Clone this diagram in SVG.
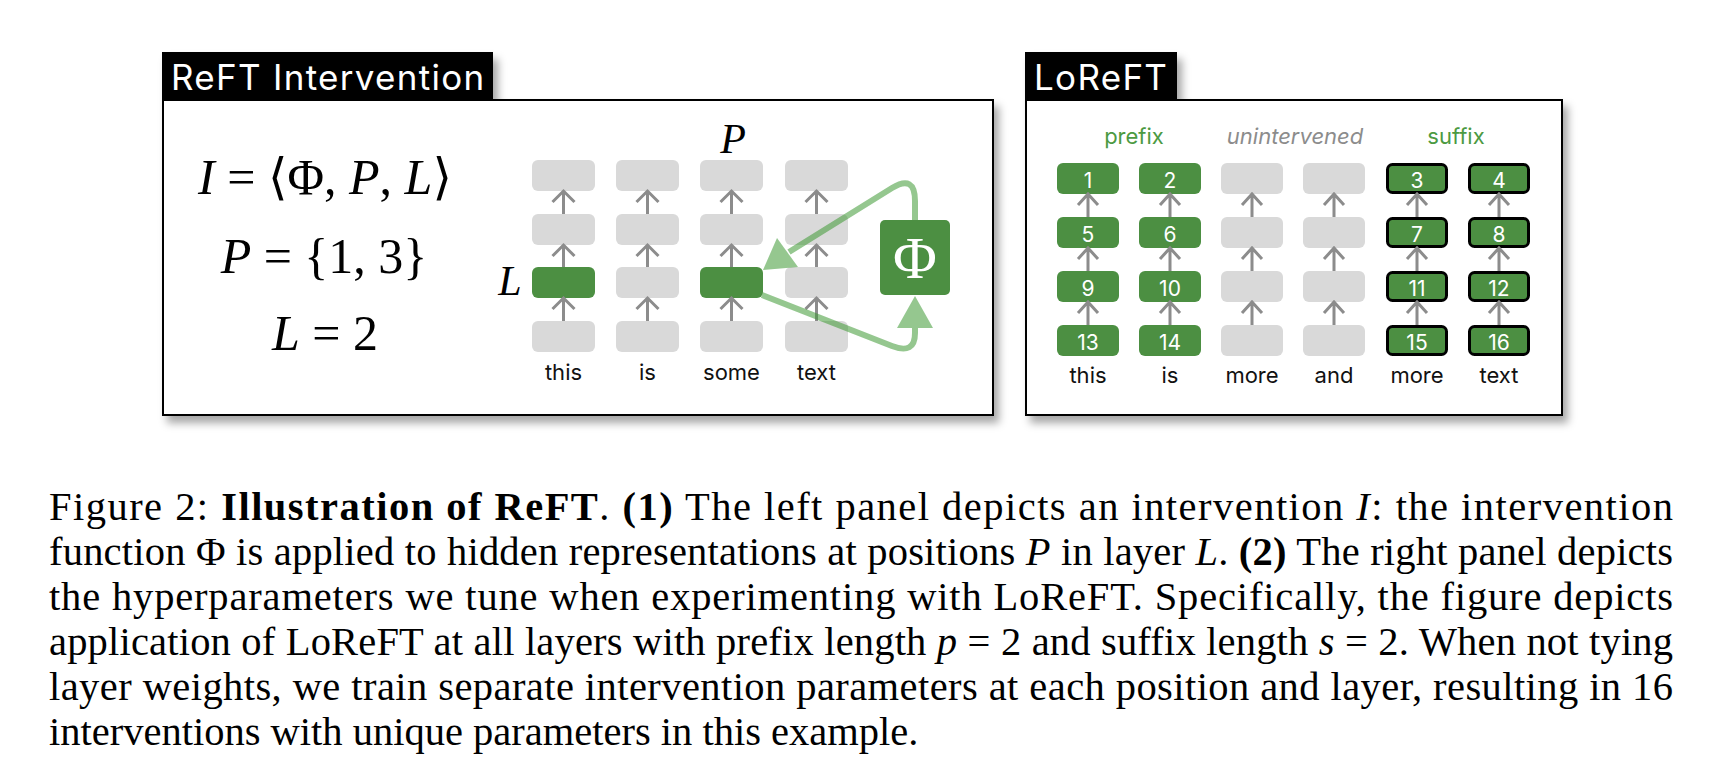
<svg xmlns="http://www.w3.org/2000/svg" width="1710" height="782" viewBox="0 0 1710 782">
<defs>
<filter id="sh" x="-10%" y="-10%" width="125%" height="130%">
<feDropShadow dx="5" dy="7" stdDeviation="4" flood-color="#000" flood-opacity="0.35"/>
</filter>
<style>
.panel{fill:#fff;stroke:#000;stroke-width:2}
.title{fill:#000}
.ttext{font-family:Inter,"Liberation Sans",sans-serif;font-size:35px;fill:#fff;letter-spacing:1.3px}
.g{fill:#d9d9d9}
.gr{fill:#4c8f42}
.sx{fill:#4c8f42;stroke:#000;stroke-width:3}
.num{font-family:Inter,"Liberation Sans",sans-serif;font-size:21px;fill:#fff;text-anchor:middle}
.word{font-family:Inter,"Liberation Sans",sans-serif;font-size:22px;fill:#111;text-anchor:middle}
.lab{font-family:Inter,"Liberation Sans",sans-serif;font-size:22px;text-anchor:middle}
.math{font-family:"Liberation Serif","DejaVu Serif",serif;font-size:50px;fill:#000;text-anchor:middle}
.it{font-style:italic}
.arr{fill:none;stroke:#8c8c8c;stroke-width:3}
.gl{fill:none;stroke:#3f9a35;stroke-width:6;stroke-linejoin:round}
.cap{font-family:"Liberation Serif","Times New Roman",serif;font-size:40.5px;fill:#000}
.b{font-weight:bold}
</style>
</defs>
<rect width="1710" height="782" fill="#fff"/>

<!-- Left panel -->
<g id="panel-reft" filter="url(#sh)">
<rect class="panel" x="163" y="100" width="830" height="315"/>
<rect class="title" x="162" y="52" width="331" height="48"/>
</g>
<text class="ttext" x="171" y="90">ReFT Intervention</text>

<g id="equations">
<text class="math" x="325" y="194"><tspan class="it">I</tspan> = ⟨Φ, <tspan class="it">P</tspan>, <tspan class="it">L</tspan>⟩</text>
<text class="math" x="324" y="273"><tspan class="it">P</tspan> = {1, 3}</text>
<text class="math" x="325" y="350"><tspan class="it">L</tspan> = 2</text>
</g>

<g id="left-grid">
<g id="col-this">
<rect class="g" x="532" y="160" width="63" height="31" rx="6"/>
<rect class="g" x="532" y="214" width="63" height="31" rx="6"/>
<rect class="gr" x="532" y="267" width="63" height="31" rx="6"/>
<rect class="g" x="532" y="321" width="63" height="31" rx="6"/>
<text class="word" x="563.5" y="380">this</text>
</g>
<g id="col-is">
<rect class="g" x="616" y="160" width="63" height="31" rx="6"/>
<rect class="g" x="616" y="214" width="63" height="31" rx="6"/>
<rect class="g" x="616" y="267" width="63" height="31" rx="6"/>
<rect class="g" x="616" y="321" width="63" height="31" rx="6"/>
<text class="word" x="647.5" y="380">is</text>
</g>
<g id="col-some">
<rect class="g" x="700" y="160" width="63" height="31" rx="6"/>
<rect class="g" x="700" y="214" width="63" height="31" rx="6"/>
<rect class="gr" x="700" y="267" width="63" height="31" rx="6"/>
<rect class="g" x="700" y="321" width="63" height="31" rx="6"/>
<text class="word" x="731.5" y="380">some</text>
</g>
<g id="col-text">
<rect class="g" x="785" y="160" width="63" height="31" rx="6"/>
<rect class="g" x="785" y="214" width="63" height="31" rx="6"/>
<rect class="g" x="785" y="267" width="63" height="31" rx="6"/>
<rect class="g" x="785" y="321" width="63" height="31" rx="6"/>
<text class="word" x="816.5" y="380">text</text>
</g>
<text class="math it" x="733" y="153" style="font-size:42px">P</text>
<text class="math it" x="510" y="295" style="font-size:42px">L</text>
</g>

<g id="phi">
<rect class="gr" x="880" y="220" width="70" height="75" rx="5"/>
<text class="math" x="915" y="278" style="font-size:60px;fill:#fff">Φ</text>
</g>

<!-- Right panel -->
<g id="panel-loreft" filter="url(#sh)">
<rect class="panel" x="1026" y="100" width="536" height="315"/>
<rect class="title" x="1025" y="52" width="152" height="48"/>
</g>
<text class="ttext" x="1034" y="90">LoReFT</text>

<g id="labels">
<text class="lab" x="1134" y="144" fill="#4c9a42">prefix</text>
<text class="lab it" x="1295" y="144" fill="#8c8c8c">unintervened</text>
<text class="lab" x="1456" y="144" fill="#4c9a42">suffix</text>
</g>

<g id="r-col1">
<rect class="gr" x="1057" y="163" width="62" height="31" rx="6"/><text class="num" x="1088" y="188">1</text>
<rect class="gr" x="1057" y="217" width="62" height="31" rx="6"/><text class="num" x="1088" y="242">5</text>
<rect class="gr" x="1057" y="271" width="62" height="31" rx="6"/><text class="num" x="1088" y="296">9</text>
<rect class="gr" x="1057" y="325" width="62" height="31" rx="6"/><text class="num" x="1088" y="350">13</text>
<text class="word" x="1088" y="383">this</text>
</g>
<g id="r-col2">
<rect class="gr" x="1139" y="163" width="62" height="31" rx="6"/><text class="num" x="1170" y="188">2</text>
<rect class="gr" x="1139" y="217" width="62" height="31" rx="6"/><text class="num" x="1170" y="242">6</text>
<rect class="gr" x="1139" y="271" width="62" height="31" rx="6"/><text class="num" x="1170" y="296">10</text>
<rect class="gr" x="1139" y="325" width="62" height="31" rx="6"/><text class="num" x="1170" y="350">14</text>
<text class="word" x="1170" y="383">is</text>
</g>
<g id="r-col3">
<rect class="g" x="1221" y="163" width="62" height="31" rx="6"/>
<rect class="g" x="1221" y="217" width="62" height="31" rx="6"/>
<rect class="g" x="1221" y="271" width="62" height="31" rx="6"/>
<rect class="g" x="1221" y="325" width="62" height="31" rx="6"/>
<text class="word" x="1252" y="383">more</text>
</g>
<g id="r-col4">
<rect class="g" x="1303" y="163" width="62" height="31" rx="6"/>
<rect class="g" x="1303" y="217" width="62" height="31" rx="6"/>
<rect class="g" x="1303" y="271" width="62" height="31" rx="6"/>
<rect class="g" x="1303" y="325" width="62" height="31" rx="6"/>
<text class="word" x="1334" y="383">and</text>
</g>
<g id="r-col5">
<rect class="sx" x="1387.5" y="164.5" width="59" height="28" rx="5"/><text class="num" x="1417" y="188">3</text>
<rect class="sx" x="1387.5" y="218.5" width="59" height="28" rx="5"/><text class="num" x="1417" y="242">7</text>
<rect class="sx" x="1387.5" y="272.5" width="59" height="28" rx="5"/><text class="num" x="1417" y="296">11</text>
<rect class="sx" x="1387.5" y="326.5" width="59" height="28" rx="5"/><text class="num" x="1417" y="350">15</text>
<text class="word" x="1417" y="383">more</text>
</g>
<g id="r-col6">
<rect class="sx" x="1469.5" y="164.5" width="59" height="28" rx="5"/><text class="num" x="1499" y="188">4</text>
<rect class="sx" x="1469.5" y="218.5" width="59" height="28" rx="5"/><text class="num" x="1499" y="242">8</text>
<rect class="sx" x="1469.5" y="272.5" width="59" height="28" rx="5"/><text class="num" x="1499" y="296">12</text>
<rect class="sx" x="1469.5" y="326.5" width="59" height="28" rx="5"/><text class="num" x="1499" y="350">16</text>
<text class="word" x="1499" y="383">text</text>
</g>

<g id="connectors">
<!-- left gray arrows -->
<path class="arr" d="M563.5 214V191M552.5 202L563.5 191L574.5 202M563.5 267V245M552.5 256L563.5 245L574.5 256M563.5 321V298M552.5 309L563.5 298L574.5 309"/>
<path class="arr" d="M647.5 214V191M636.5 202L647.5 191L658.5 202M647.5 267V245M636.5 256L647.5 245L658.5 256M647.5 321V298M636.5 309L647.5 298L658.5 309"/>
<path class="arr" d="M731.5 214V191M720.5 202L731.5 191L742.5 202M731.5 267V245M720.5 256L731.5 245L742.5 256M731.5 321V298M720.5 309L731.5 298L742.5 309"/>
<path class="arr" d="M816.5 214V191M805.5 202L816.5 191L827.5 202M816.5 267V245M805.5 256L816.5 245L827.5 256M816.5 321V298M805.5 309L816.5 298L827.5 309"/>
<!-- right gray arrows -->
<path class="arr" d="M1088 217V194M1078 205L1088 194L1098 205M1088 271V248M1078 259L1088 248L1098 259M1088 325V302M1078 313L1088 302L1098 313"/>
<path class="arr" d="M1170 217V194M1160 205L1170 194L1180 205M1170 271V248M1160 259L1170 248L1180 259M1170 325V302M1160 313L1170 302L1180 313"/>
<path class="arr" d="M1252 217V194M1242 205L1252 194L1262 205M1252 271V248M1242 259L1252 248L1262 259M1252 325V302M1242 313L1252 302L1262 313"/>
<path class="arr" d="M1334 217V194M1324 205L1334 194L1344 205M1334 271V248M1324 259L1334 248L1344 259M1334 325V302M1324 313L1334 302L1344 313"/>
<path class="arr" d="M1417 217V194M1407 205L1417 194L1427 205M1417 271V248M1407 259L1417 248L1427 259M1417 325V302M1407 313L1417 302L1427 313"/>
<path class="arr" d="M1499 217V194M1489 205L1499 194L1509 205M1499 271V248M1489 259L1499 248L1509 259M1499 325V302M1489 313L1499 302L1509 313"/>
<!-- green intervention loop -->
<g opacity="0.55">
<path class="gl" d="M762 295L892 346Q915 355 915 333V324"/>
<polygon points="915,296 897,328 933,328" fill="#3f9a35"/>
</g>
<g opacity="0.55">
<path class="gl" d="M915 220V201Q915 174 892 188L789 252"/>
<polygon points="763,270 777,238 798,267" fill="#3f9a35"/>
</g>
</g>

<g id="caption">
<text class="cap" x="49" y="520" textLength="1624" lengthAdjust="spacing">Figure 2:  <tspan class="b">Illustration of ReFT</tspan>. <tspan class="b">(1)</tspan> The left panel depicts an intervention <tspan class="it">I</tspan>:  the intervention</text>
<text class="cap" x="49" y="565" textLength="1624" lengthAdjust="spacing">function Φ is applied to hidden representations at positions <tspan class="it">P</tspan> in layer <tspan class="it">L</tspan>. <tspan class="b">(2)</tspan> The right panel depicts</text>
<text class="cap" x="49" y="610" textLength="1624" lengthAdjust="spacing">the hyperparameters we tune when experimenting with LoReFT. Specifically, the figure depicts</text>
<text class="cap" x="49" y="655" textLength="1624" lengthAdjust="spacing">application of LoReFT at all layers with prefix length <tspan class="it">p</tspan> = 2 and suffix length <tspan class="it">s</tspan> = 2. When not tying</text>
<text class="cap" x="49" y="700" textLength="1624" lengthAdjust="spacing">layer weights, we train separate intervention parameters at each position and layer, resulting in 16</text>
<text class="cap" x="49" y="745">interventions with unique parameters in this example.</text>
</g>
</svg>
